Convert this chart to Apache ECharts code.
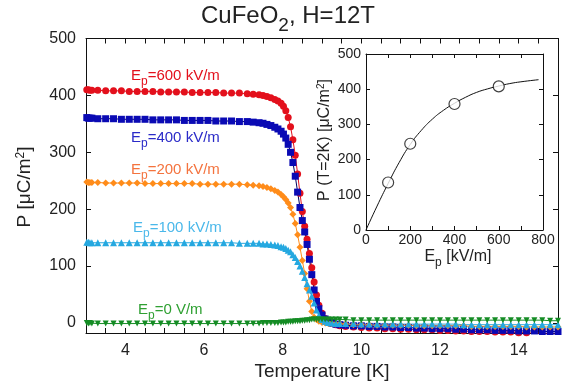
<!DOCTYPE html>
<html>
<head>
<meta charset="utf-8">
<script src="https://cdn.jsdelivr.net/npm/echarts@6/dist/echarts.min.js"></script>
<style>
  html, body { margin: 0; padding: 0; background: #fff; }
  #chart { width: 567px; height: 388px; }
</style>
</head>
<body>
<div id="chart"></div>
<script>
// Temperature sweep [K], shared by all five poling-field runs
const temperature = [
  3.02, 3.06, 3.10, 3.15, 3.30, 3.50, 3.70, 3.90, 4.10, 4.30, 4.50, 4.70, 4.90, 5.10, 5.30, 5.50,
  5.70, 5.90, 6.10, 6.30, 6.50, 6.70, 6.90, 7.10, 7.25, 7.40, 7.50, 7.60, 7.70, 7.80, 7.88, 7.96,
  8.02, 8.08, 8.14, 8.20, 8.26, 8.32, 8.38, 8.44, 8.50, 8.56, 8.62, 8.68, 8.74, 8.80, 8.86, 8.92,
  9.00, 9.08, 9.16, 9.25, 9.35, 9.45,
  9.6, 9.8, 10.0, 10.2, 10.4, 10.6, 10.8, 11.0, 11.2, 11.4, 11.6, 11.8, 12.0, 12.2, 12.4, 12.6,
  12.8, 13.0, 13.2, 13.4, 13.6, 13.8, 14.0, 14.2, 14.4, 14.6, 14.8, 15.0
];

// Polarization P [uC/m^2] for each poling field
const p600 = [
  410, 410, 409, 409, 409, 408, 408, 408, 407, 407, 407, 407, 406, 406, 406, 406,
  405, 405, 405, 405, 404, 404, 404, 403, 402, 401, 400, 398, 396, 393, 390, 386,
  381, 373, 361, 345, 322, 295, 262, 228, 196, 170, 147, 122, 97, 72, 49, 31,
  17, 8, 3, -1, -3, -5,
  -6, -7, -8, -9, -9, -10, -10, -11, -11, -12, -12, -12, -13, -13, -14, -14,
  -15, -15, -15, -16, -16, -16, -17, -17, -18, -18, -19, -19
];
const p400 = [
  361, 360, 360, 360, 359, 359, 359, 358, 358, 358, 358, 357, 357, 357, 357, 356,
  356, 356, 356, 355, 355, 355, 354, 354, 353, 352, 351, 349, 347, 344, 341, 337,
  332, 325, 314, 300, 282, 258, 230, 203, 180, 160, 138, 112, 85, 58, 38, 25,
  14, 7, 3, 0, -2, -3,
  -4, -5, -5, -6, -6, -7, -7, -8, -8, -9, -9, -10, -10, -10, -11, -11,
  -12, -12, -12, -13, -13, -13, -14, -14, -14, -15, -15, -15
];
const p200 = [
  248, 247, 247, 247, 247, 246, 246, 246, 246, 246, 245, 245, 245, 245, 245, 245,
  245, 244, 244, 244, 244, 244, 244, 243, 242, 241, 240, 238, 236, 233, 230, 226,
  222, 217, 211, 203, 191, 175, 155, 133, 110, 87, 60, 38, 20, 10, 6, 3,
  1, 0, -1, -1, -2, -2,
  -2, -3, -3, -3, -4, -4, -4, -4, -4, -5, -5, -5, -5, -5, -5, -5,
  -6, -6, -6, -6, -6, -6, -6, -7, -7, -7, -7, -7
];
const p100 = [
  142, 142, 141, 141, 141, 141, 141, 141, 141, 141, 141, 141, 141, 141, 141, 141,
  141, 141, 141, 141, 141, 141, 140, 140, 140, 140, 139, 139, 138, 137, 136, 134,
  133, 131, 128, 125, 120, 115, 108, 100, 91, 80, 69, 58, 47, 35, 23, 13,
  6, 3, 1, 0, -1, -1,
  -1, -1, -2, -2, -2, -2, -2, -2, -2, -2, -2, -2, -2, -2, -2, -3,
  -3, -3, -3, -3, -3, -3, -3, -3, -3, -3, -3, -3
];
const p0 = [
  0, -1, 0, -1, -1, -1, -1, -1, -1, -1, -1, -1, -1, -1, -1, -1,
  -1, -1, -1, -1, -1, -1, -1, -1, -1, -1, 0, 0, 0, 0, 0, 1,
  1, 1, 2, 2, 2, 3, 3, 3, 4, 4, 5, 5, 6, 6, 6, 6,
  6, 6, 6, 6, 6, 6,
  6, 5, 5, 5, 5, 5, 5, 5, 5, 5, 5, 5, 5, 5, 5, 5,
  5, 5, 5, 5, 5, 5, 5, 5, 5, 5, 4, 4
];

// Inset: P at T = 2 K versus poling field
const insetField = [100, 200, 400, 600];
const insetP = [135, 245, 358, 408];
// Guide curve through the inset points
const guideField = [0, 50, 100, 150, 200, 250, 300, 350, 400, 450, 500, 550, 600, 650, 700, 780];
const guideP = [0, 68, 132, 192, 243, 283, 315, 340, 360, 377, 391, 401, 409, 416, 421, 427];

// Tick positions
const tempTicks = [3, 3.5, 4, 4.5, 5, 5.5, 6, 6.5, 7, 7.5, 8, 8.5, 9, 9.5, 10, 10.5, 11, 11.5, 12, 12.5, 13, 13.5, 14, 14.5, 15];
const tempLabels = [4, 6, 8, 10, 12, 14];
const pTicks = [0, 100, 200, 300, 400, 500];
const fieldTicks = [0, 100, 200, 300, 400, 500, 600, 700, 800];
const fieldLabels = [0, 200, 400, 600, 800];

const FONT = 'Liberation Sans, Arial, Helvetica, sans-serif';

const pairs = (xs, ys) => xs.map((x, i) => [x, ys[i]]);

function frameAxis(common, extra) {
  return Object.assign({
    type: 'value',
    axisLine: { show: true, onZero: false, lineStyle: { color: '#111', width: 1 } },
    splitLine: { show: false },
  }, common, extra);
}

const chart = echarts.init(document.getElementById('chart'), null, { renderer: 'canvas' });

const mainX = { min: 3, max: 15, gridIndex: 0 };
const mainY = { min: -17.6, max: 500, gridIndex: 0 };
const insX = { min: 0, max: 800, gridIndex: 1 };
const insY = { min: 0, max: 500, gridIndex: 1 };

const tick = (vals, len) => ({ show: true, inside: true, length: len, customValues: vals, lineStyle: { color: '#111', width: 1 } });

function runSeries(name, data, color, lineColor, symbol, size, rotate) {
  return {
    name, type: 'line', xAxisIndex: 0, yAxisIndex: 0,
    data: pairs(temperature, data),
    symbol, symbolSize: size, symbolRotate: rotate || 0,
    showAllSymbol: true,
    itemStyle: { color },
    lineStyle: { color: lineColor, width: 1 },
    emphasis: { disabled: true },
    z: 3
  };
}

const option = {
  animation: false,
  textStyle: { fontFamily: FONT },
  grid: [
    { left: 86, top: 38.5, width: 472, height: 294.5 },
    { left: 366, top: 54, width: 177, height: 176 }
  ],
  xAxis: [
    frameAxis(mainX, {
      position: 'bottom',
      axisTick: tick(tempTicks, 5),
      axisLabel: { customValues: tempLabels, fontSize: 16, color: '#222', margin: 10, fontFamily: FONT }
    }),
    frameAxis(mainX, { position: 'top', axisTick: tick(tempTicks, 5), axisLabel: { show: false } }),
    frameAxis(insX, {
      position: 'bottom',
      axisTick: tick(fieldTicks, 4),
      axisLabel: { customValues: fieldLabels, fontSize: 14, color: '#222', margin: 3, fontFamily: FONT }
    }),
    frameAxis(insX, { position: 'top', axisTick: tick(fieldTicks, 4), axisLabel: { show: false } })
  ],
  yAxis: [
    frameAxis(mainY, {
      position: 'left',
      axisTick: tick(pTicks, 5),
      axisLabel: { customValues: pTicks, fontSize: 16, color: '#222', margin: 10, fontFamily: FONT }
    }),
    frameAxis(mainY, { position: 'right', axisTick: tick(pTicks, 5), axisLabel: { show: false } }),
    frameAxis(insY, {
      position: 'left',
      axisTick: tick(pTicks, 4),
      axisLabel: { customValues: pTicks, fontSize: 14, color: '#222', margin: 5, fontFamily: FONT }
    }),
    frameAxis(insY, { position: 'right', axisTick: tick(pTicks, 4), axisLabel: { show: false } })
  ],
  series: [
    runSeries('600 kV/m', p600, '#e3101c', '#e3101c', 'circle', 7),
    runSeries('400 kV/m', p400, '#0a0ab4', '#000060', 'rect', 7),
    runSeries('200 kV/m', p200, '#ff8c1a', '#ff8c1a', 'diamond', 7),
    runSeries('100 kV/m', p100, '#25a8e0', '#25a8e0', 'triangle', 7),
    runSeries('0 V/m', p0, '#148c24', '#148c24', 'triangle', 6, 180),
    {
      type: 'line', xAxisIndex: 2, yAxisIndex: 2,
      data: pairs(guideField, guideP),
      smooth: true, symbol: 'none',
      lineStyle: { color: '#111', width: 1 },
      z: 4
    },
    {
      type: 'scatter', xAxisIndex: 2, yAxisIndex: 2,
      data: pairs(insetField, insetP),
      symbol: 'circle', symbolSize: 11,
      itemStyle: { color: '#fff', borderColor: '#111', borderWidth: 1.2 },
      z: 5
    }
  ]
};

// Text elements with sub/superscripts
const base = (size, color) => ({ fontSize: size, lineHeight: size + 3, verticalAlign: 'top', fill: color, fontFamily: FONT });
const sub = (size, color, drop) => ({ fontSize: size, lineHeight: size, padding: [drop, 0, 0, 0], verticalAlign: 'top', fill: color, fontFamily: FONT });
const sup = (size, color) => ({ fontSize: size, lineHeight: size, padding: [0, 0, 0, 0], verticalAlign: 'top', fill: color, fontFamily: FONT });

function label(x, y, text, color, size, align, rotation) {
  return {
    type: 'text', x, y, z: 10, rotation: rotation || 0,
    style: {
      text,
      rich: { n: base(size, color), s: sub(Math.round(size * 0.78), color, Math.round(size * 0.5)), u: sup(Math.round(size * 0.65), color) },
      align: align || 'left', verticalAlign: 'middle'
    }
  };
}

option.graphic = [
  label(288, 18, '{n|CuFeO}{s|2}{n|, H=12T}', '#222', 24, 'center'),
  label(131, 77, '{n|E}{s|p}{n|=600 kV/m}', '#e3101c', 15),
  label(131, 139, '{n|E}{s|p}{n|=400 kV/m}', '#2a2ac8', 15),
  label(131, 171, '{n|E}{s|p}{n|=200 kV/m}', '#f4733e', 15),
  label(133, 229, '{n|E}{s|p}{n|=100 kV/m}', '#4ab8ea', 15),
  label(138, 311, '{n|E}{s|p}{n|=0 V/m}', '#2fa032', 15),
  label(322, 373, '{n|Temperature [K]}', '#222', 19, 'center'),
  label(26, 187, '{n|P [μC/m}{u|2}{n|]}', '#222', 19, 'center', Math.PI / 2),
  label(458, 258, '{n|E}{s|p}{n| [kV/m]}', '#222', 16, 'center'),
  label(326, 140, '{n|P (T=2K) [μC/m}{u|2}{n|]}', '#222', 16, 'center', Math.PI / 2)
];

chart.setOption(option);
</script>
</body>
</html>
